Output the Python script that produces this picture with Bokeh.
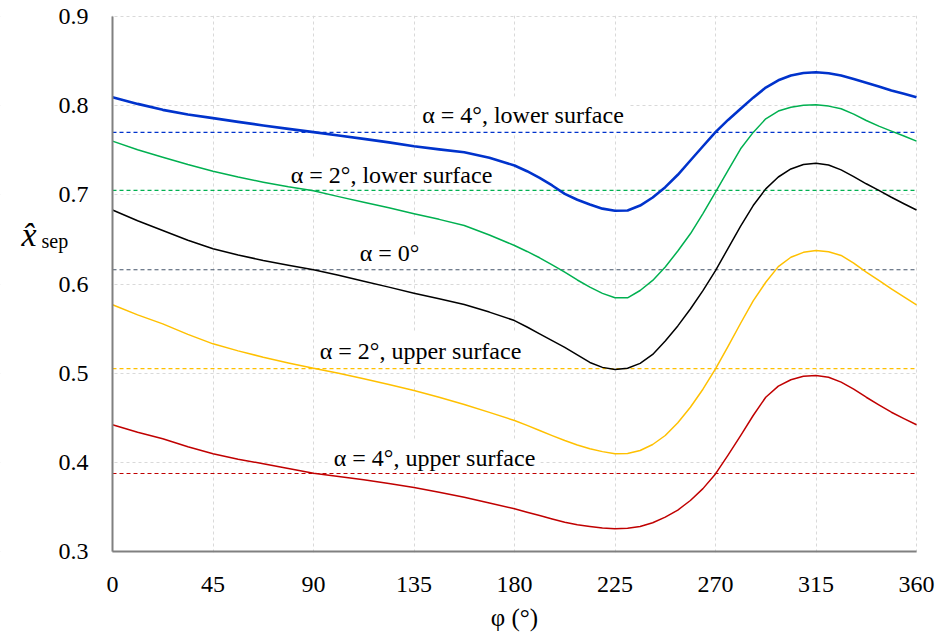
from bokeh.plotting import figure
from bokeh.models import Range1d, FixedTicker, Label, BoxAnnotation
from bokeh.core.properties import value
from bokeh.embed import file_html
from bokeh.resources import INLINE

# ---------------- data ----------------
phi = [0, 11.25, 22.5, 33.75, 45, 56.25, 67.5, 78.75, 90, 101.25, 112.5, 123.75, 135,
       146.25, 157.5, 168.75, 180, 185.625, 191.25, 196.875, 202.5, 208.125, 213.75,
       219.375, 225, 230.625, 236.25, 241.875, 247.5, 253.125, 258.75, 264.375, 270,
       275.625, 281.25, 286.875, 292.5, 298.125, 303.75, 309.375, 315, 320.625, 326.25,
       331.875, 337.5, 343.125, 348.75, 354.375, 360]

a4_lower = [0.8095, 0.802, 0.7953, 0.790, 0.786, 0.7818, 0.7778, 0.774, 0.7703, 0.7665,
            0.7628, 0.7588, 0.7545, 0.751, 0.7478, 0.7415, 0.7329, 0.7265, 0.719, 0.7105,
            0.7011, 0.6945, 0.6892, 0.6845, 0.6822, 0.6825, 0.688, 0.697, 0.7086, 0.7225,
            0.7385, 0.7545, 0.7703, 0.784, 0.7965, 0.809, 0.8203, 0.8285, 0.8338, 0.8366,
            0.8374, 0.8363, 0.8338, 0.830, 0.8258, 0.8215, 0.817, 0.8133, 0.8095]
a2_lower = [0.7602, 0.7505, 0.7422, 0.734, 0.7265, 0.720, 0.7142, 0.709, 0.7045, 0.698,
            0.6918, 0.6855, 0.6787, 0.6725, 0.6656, 0.655, 0.6432, 0.6365, 0.6294, 0.6215,
            0.6133, 0.6045, 0.5965, 0.5895, 0.5845, 0.5845, 0.5927, 0.604, 0.619, 0.637,
            0.6563, 0.679, 0.703, 0.7275, 0.7516, 0.770, 0.7852, 0.794, 0.7983, 0.8005,
            0.801, 0.7995, 0.7965, 0.7905, 0.7834, 0.777, 0.7714, 0.766, 0.7602]
a0 = [0.683, 0.671, 0.660, 0.649, 0.6395, 0.6325, 0.6264, 0.621, 0.616, 0.6098,
      0.6032, 0.5965, 0.5897, 0.5835, 0.577, 0.5685, 0.559, 0.5518, 0.544, 0.5365,
      0.529, 0.5205, 0.512, 0.5065, 0.504, 0.5055, 0.511, 0.521, 0.536, 0.553,
      0.572, 0.5925, 0.615, 0.640, 0.665, 0.688, 0.7067, 0.720, 0.729, 0.734,
      0.7355, 0.7335, 0.728, 0.7205, 0.7124, 0.705, 0.6973, 0.690, 0.683]
a2_upper = [0.5767, 0.5654, 0.5553, 0.5435, 0.5329, 0.525, 0.5179, 0.5115, 0.5056, 0.4998,
            0.4937, 0.4873, 0.4806, 0.473, 0.4649, 0.456, 0.4469, 0.4415, 0.4357, 0.430,
            0.4245, 0.4195, 0.4152, 0.412, 0.4096, 0.4100, 0.4133, 0.420, 0.4301, 0.4445,
            0.4618, 0.482, 0.5049, 0.530, 0.556, 0.581, 0.602, 0.6195, 0.630, 0.6355,
            0.6376, 0.6362, 0.632, 0.6235, 0.6133, 0.604, 0.5946, 0.5855, 0.5767]
a4_upper = [0.4421, 0.4338, 0.4264, 0.4175, 0.4096, 0.4035, 0.3984, 0.393, 0.3878, 0.384,
            0.3804, 0.3763, 0.3718, 0.3665, 0.3609, 0.3545, 0.3479, 0.344, 0.3404, 0.3365,
            0.3329, 0.330, 0.328, 0.3263, 0.3255, 0.326, 0.328, 0.3323, 0.3385, 0.3465,
            0.3572, 0.3705, 0.387, 0.408, 0.430, 0.4525, 0.473, 0.4855, 0.4926, 0.4965,
            0.4974, 0.4955, 0.4899, 0.482, 0.473, 0.4645, 0.4562, 0.449, 0.4421]

ref_values = [0.770, 0.705, 0.616, 0.505, 0.3875]

label_texts = ["α = 4°, lower surface", "α = 2°, lower surface", "α = 0°",
               "α = 2°, upper surface", "α = 4°, upper surface"]

x_ticks = [0, 45, 90, 135, 180, 225, 270, 315, 360]
x_tick_labels = ["0", "45", "90", "135", "180", "225", "270", "315", "360"]
y_ticks = [0.3, 0.4, 0.5, 0.6, 0.7, 0.8, 0.9]
y_tick_labels = ["0.3", "0.4", "0.5", "0.6", "0.7", "0.8", "0.9"]

x_title = "φ (°)"
y_title_main = "x\u0302"
y_title_sub = "sep"

# ---------------- layout (pixels) ----------------
W, H = 944, 636
FL, FR, FT, FB = 112, 916, 16, 551          # plot-area edges in the picture
X0, X1 = x_ticks[0], x_ticks[-1]
Y0, Y1 = y_ticks[0], y_ticks[-1]
DX = (X1 - X0) / (FR - FL)                   # data units per pixel
DY = (Y1 - Y0) / (FB - FT)


def px_x(px):
    return X0 + (px - FL) * DX


def px_y(py):
    return Y1 - (py - FT) * DY


series = [a4_lower, a2_lower, a0, a2_upper, a4_upper]
colors = ["#0033CC", "#00B050", "#000000", "#FFC000", "#C00000"]
widths = [2.6, 1.5, 1.5, 1.5, 1.5]
ref_colors = ["#0033CC", "#00B050", "#44546A", "#FFC000", "#C00000"]
label_center_px = [(522.5, 114.2), (391, 174.6), (389, 252.6), (420, 350.2), (434, 457.6)]

FONT = "Liberation Serif"

p = figure(width=W, height=H, output_backend="svg", toolbar_location=None,
           x_range=Range1d(px_x(0), px_x(W)), y_range=Range1d(px_y(H), px_y(0)),
           min_border=0, min_border_left=0, min_border_right=0,
           min_border_top=0, min_border_bottom=0)
p.outline_line_color = None
p.background_fill_color = "white"
p.border_fill_color = "white"
p.xaxis.visible = False
p.yaxis.visible = False

# grid (dashed light grey), trimmed to the plot area by white covers
p.xgrid.ticker = FixedTicker(ticks=x_ticks)
p.ygrid.ticker = FixedTicker(ticks=y_ticks)
for g in (p.xgrid[0], p.ygrid[0]):
    g.grid_line_color = "#D9D9D9"
    g.grid_line_dash = "3 3"
    g.grid_line_width = 1
cover = dict(fill_color="white", fill_alpha=1, line_color=None, level="underlay")
p.add_layout(BoxAnnotation(right=px_x(FL - 1), **cover))
p.add_layout(BoxAnnotation(left=px_x(FR + 1), **cover))
p.add_layout(BoxAnnotation(bottom=px_y(FT - 1), **cover))
p.add_layout(BoxAnnotation(top=px_y(FB + 1), **cover))

# label boxes (under the curves, over the grid)
for txt, (cx, cy) in zip(label_texts, label_center_px):
    p.add_layout(Label(x=px_x(cx), y=px_y(cy), text=txt, text_align="center",
                       text_baseline="middle", text_font=FONT,
                       text_font_size="24px", text_color="#000000",
                       background_fill_color="white", padding=5, level="underlay"))

# reference (dashed) lines
n_ref = len(ref_values)
p.segment(x0=[X0] * n_ref, x1=[X1] * n_ref, y0=ref_values, y1=ref_values,
          line_color=ref_colors, line_width=1.2, line_dash="4 3")

# curves
for s, c, w in zip(series, colors, widths):
    p.line(phi, s, line_color=c, line_width=w, line_join="round")

# axis lines
p.segment(x0=[X0, X0], y0=[Y0, Y0], x1=[X0, X1], y1=[Y1, Y0],
          line_color="#808080", line_width=2)

# tick labels
p.text(x=[px_x(FL - 24)] * len(y_ticks), y=y_ticks, text=y_tick_labels,
       text_align="right", text_baseline="middle", text_font=value(FONT),
       text_font_size="24px", text_color="#000000")
p.text(x=x_ticks, y=[px_y(FB + 32.5)] * len(x_ticks), text=x_tick_labels,
       text_align="center", text_baseline="middle", text_font=value(FONT),
       text_font_size="24px", text_color="#000000")

# axis titles
p.text(x=[(X0 + X1) / 2], y=[px_y(617)], text=[x_title], text_align="center",
       text_baseline="middle", text_font=value(FONT), text_font_size="25px",
       text_color="#000000")
p.text(x=[px_x(21)], y=[px_y(233.5)], text=[y_title_main], text_align="left",
       text_baseline="middle", text_font=value(FONT), text_font_size="34px",
       text_font_style="italic", text_color="#000000")
p.text(x=[px_x(41)], y=[px_y(240.5)], text=[y_title_sub], text_align="left",
       text_baseline="middle", text_font=value(FONT), text_font_size="20px",
       text_color="#000000")

open("out.html", "w").write(file_html(p, INLINE))
